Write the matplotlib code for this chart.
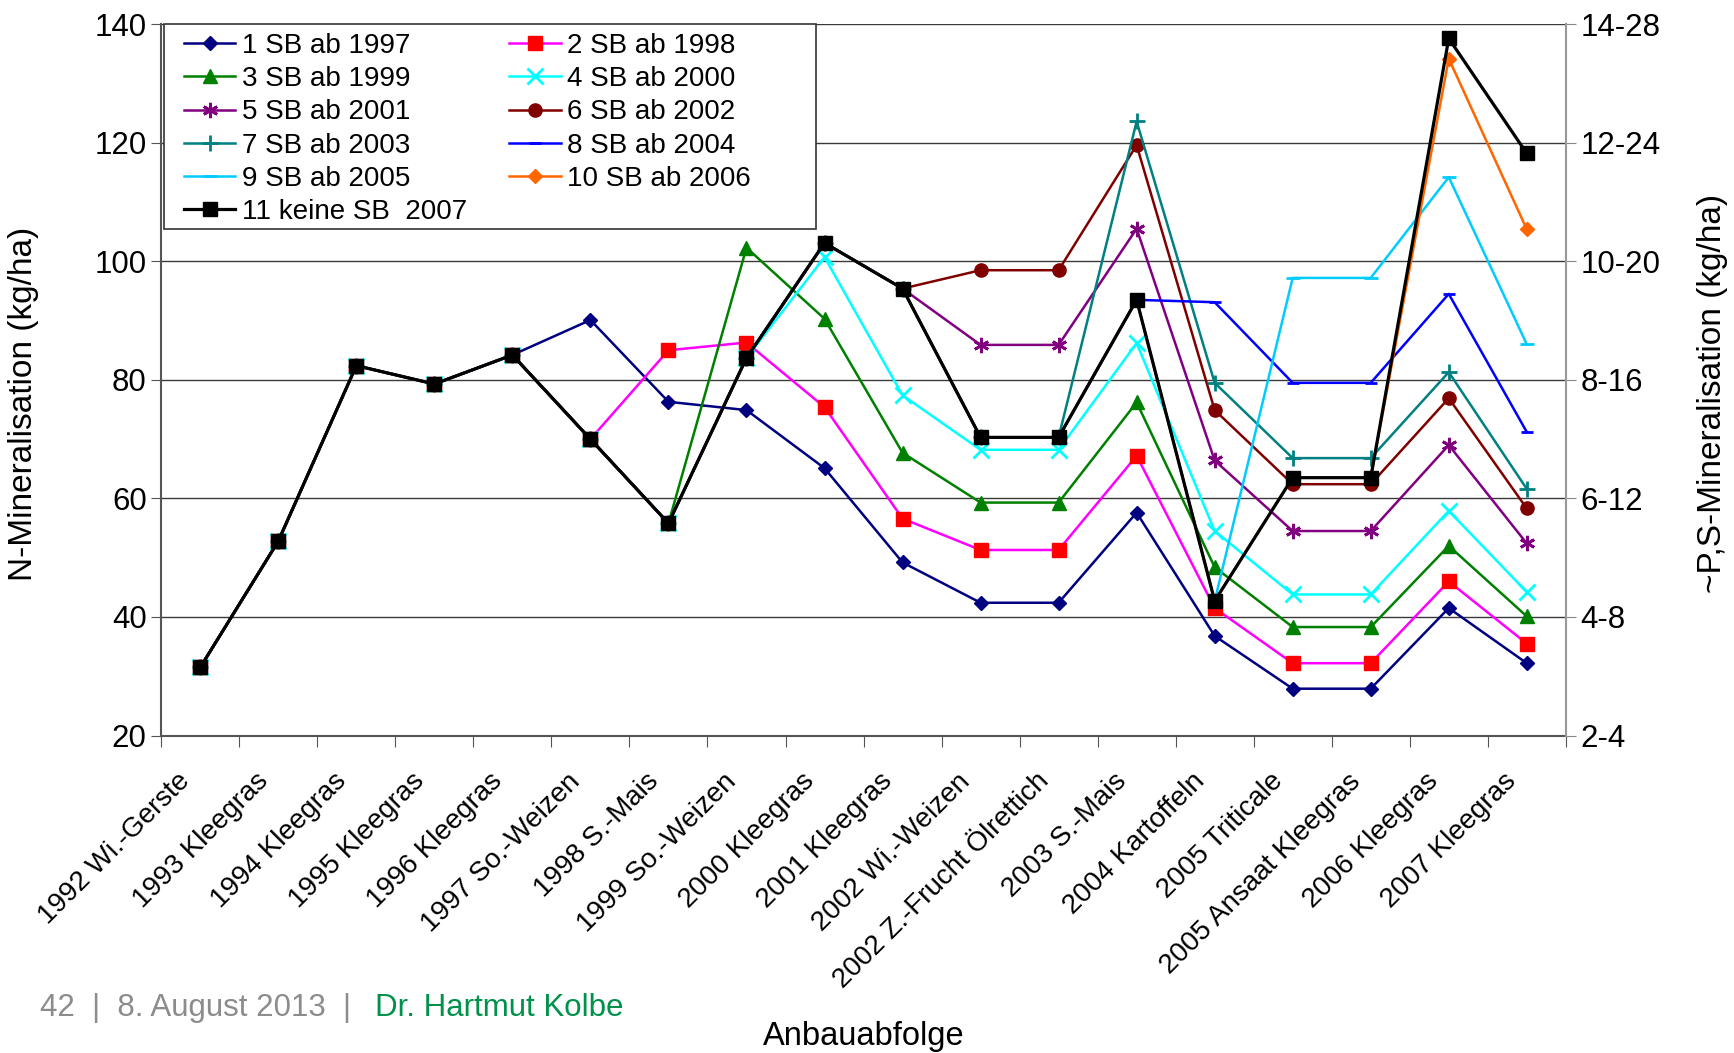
import numpy as np
import matplotlib
matplotlib.use('Agg')
import matplotlib.pyplot as plt
import matplotlib.transforms as mtransforms
from matplotlib.patches import Rectangle

plt.rcParams['font.family'] = ['Liberation Sans', 'DejaVu Sans']

kulturen = ["1992 Wi.-Gerste", "1993 Kleegras", "1994 Kleegras", "1995 Kleegras",
            "1996 Kleegras", "1997 So.-Weizen", "1998 S.-Mais", "1999 So.-Weizen",
            "2000 Kleegras", "2001 Kleegras", "2002 Wi.-Weizen",
            "2002 Z.-Frucht Ölrettich", "2003 S.-Mais", "2004 Kartoffeln",
            "2005 Triticale", "2005 Ansaat Kleegras", "2006 Kleegras", "2007 Kleegras"]

# N-Mineralisation (kg/ha) je Variante
sb_1997 = [31.5, 52.8, 82.4, 79.3, 84.2, 90.1, 76.3, 74.9, 65.1, 49.2, 42.4, 42.4, 57.6, 36.8, 27.9, 27.9, 41.5, 32.2]
sb_1998 = [31.5, 52.8, 82.4, 79.3, 84.2, 70.0, 85.0, 86.3, 75.4, 56.6, 51.3, 51.3, 67.2, 41.5, 32.2, 32.2, 46.0, 35.5]
sb_1999 = [31.5, 52.8, 82.4, 79.3, 84.2, 70.0, 55.8, 102.3, 90.3, 67.7, 59.3, 59.3, 76.2, 48.4, 38.3, 38.3, 52.0, 40.1]
sb_2000 = [31.5, 52.8, 82.4, 79.3, 84.2, 70.0, 55.8, 83.7, 100.7, 77.4, 68.2, 68.2, 86.2, 54.5, 43.8, 43.8, 57.9, 44.2]
sb_2001 = [31.5, 52.8, 82.4, 79.3, 84.2, 70.0, 55.8, 83.7, 103.1, 95.4, 85.9, 85.9, 105.5, 66.4, 54.5, 54.5, 69.0, 52.4]
sb_2002 = [31.5, 52.8, 82.4, 79.3, 84.2, 70.0, 55.8, 83.7, 103.1, 95.4, 98.5, 98.5, 119.6, 74.9, 62.4, 62.4, 76.9, 58.3]
sb_2003 = [31.5, 52.8, 82.4, 79.3, 84.2, 70.0, 55.8, 83.7, 103.1, 95.4, 70.3, 70.3, 123.6, 79.5, 66.8, 66.8, 81.3, 61.6]
sb_2004 = [31.5, 52.8, 82.4, 79.3, 84.2, 70.0, 55.8, 83.7, 103.1, 95.4, 70.3, 70.3, 93.5, 93.1, 79.5, 79.5, 94.5, 71.2]
sb_2005 = [31.5, 52.8, 82.4, 79.3, 84.2, 70.0, 55.8, 83.7, 103.1, 95.4, 70.3, 70.3, 93.5, 42.7, 97.2, 97.2, 114.2, 86.0]
sb_2006 = [31.5, 52.8, 82.4, 79.3, 84.2, 70.0, 55.8, 83.7, 103.1, 95.4, 70.3, 70.3, 93.5, 42.7, 63.5, 63.5, 134.2, 105.4]
keine_sb = [31.5, 52.8, 82.4, 79.3, 84.2, 70.0, 55.8, 83.7, 103.1, 95.4, 70.3, 70.3, 93.5, 42.7, 63.5, 63.5, 137.6, 118.2]

ps_labels = ["2-4", "4-8", "6-12", "8-16", "10-20", "12-24", "14-28"]

# (daten, label, linienfarbe, marker, markerfarbe, markergroesse)
varianten = [
    (sb_1997, "1 SB ab 1997", '#000080', 'D', '#000080', 7.5),
    (sb_1998, "2 SB ab 1998", '#FF00FF', 's', '#FF0000', 9.5),
    (sb_1999, "3 SB ab 1999", '#008000', '^', '#008000', 10.5),
    (sb_2000, "4 SB ab 2000", '#00FFFF', 'x', '#00FFFF', 12),
    (sb_2001, "5 SB ab 2001", '#800080', (6, 2, 0), '#800080', 11),
    (sb_2002, "6 SB ab 2002", '#800000', 'o', '#800000', 9.5),
    (sb_2003, "7 SB ab 2003", '#008080', '+', '#008080', 11),
    (sb_2004, "8 SB ab 2004", '#0000FF', '_', '#0000FF', 8),
    (sb_2005, "9 SB ab 2005", '#00CCFF', '_', '#00CCFF', 10),
    (sb_2006, "10 SB ab 2006", '#FF6600', 'D', '#FF6600', 7.5),
    (keine_sb, "11 keine SB  2007", '#000000', 's', '#000000', 9.5),
]

W, H = 1734, 1053
fig = plt.figure(figsize=(W / 100, H / 100), dpi=100)
ax = fig.add_axes([0.093, 0.3015, 0.810, 0.6755])

x = np.arange(len(kulturen))
linien = []
for werte, name, lc, mk, mc, ms in varianten:
    lw = 2.3 if lc == '#000000' else 1.8
    mew = 2 if mk in ('x', '+', '_') or isinstance(mk, tuple) else 1
    l, = ax.plot(x, werte, color=lc, lw=lw, marker=mk, markersize=ms,
                 markerfacecolor=mc, markeredgecolor=mc, markeredgewidth=mew,
                 label=name)
    linien.append(l)

ax.set_xlim(-0.5, len(kulturen) - 0.5)
ax.set_ylim(20, 140)
ax.set_yticks(range(20, 141, 20))
ax.yaxis.grid(True, color='#3a3a3a', lw=1)
ax.set_axisbelow(True)

# Teilstriche zwischen den Kulturen, Beschriftung schräg darunter
ax.set_xticks(np.arange(-0.5, len(kulturen), 1))
ax.set_xticklabels([])
ax.tick_params(axis='x', which='major', length=8, color='#555555')
versatz = mtransforms.ScaledTranslation(-14 / 100, -42 / 100, fig.dpi_scale_trans)
for xi, name in zip(x, kulturen):
    ax.text(xi, 0, name, transform=ax.get_xaxis_transform() + versatz,
            rotation=45, rotation_mode='anchor', ha='right', va='center',
            fontsize=20, clip_on=False)

ax.tick_params(axis='y', length=7, labelsize=22.5, color='#555555')
for s in ['left', 'bottom']:
    ax.spines[s].set_color('#555555')
    ax.spines[s].set_linewidth(1.5)
ax.spines['top'].set_visible(False)
ax.spines['right'].set_visible(False)

ax2 = ax.twinx()
ax2.set_ylim(20, 140)
ax2.set_yticks(range(20, 141, 20))
ax2.set_yticklabels(ps_labels)
ax2.tick_params(axis='y', length=7, labelsize=22.5, color='#888888')
ax2.spines['right'].set_color('#999999')
ax2.spines['right'].set_linewidth(1.5)
for s in ['left', 'bottom', 'top']:
    ax2.spines[s].set_visible(False)

# Legendenrahmen
rahmen = Rectangle((164 / W, 1 - 229 / H), (816 - 164) / W, (229 - 24) / H,
                   transform=fig.transFigure, facecolor='white',
                   edgecolor='#333333', lw=1.2, zorder=5)
ax2.add_patch(rahmen)
rahmen.set_clip_on(False)

# Legende zeilenweise: 1 2 / 3 4 / ...
reihenfolge = [0, 2, 4, 6, 8, 10, 1, 3, 5, 7, 9]
leg = ax2.legend([linien[i] for i in reihenfolge],
                 [linien[i].get_label() for i in reihenfolge],
                 ncol=2, loc='upper left', bbox_to_anchor=(184 / W, 1 - 33 / H),
                 bbox_transform=fig.transFigure, borderaxespad=0, borderpad=0,
                 fontsize=20, handlelength=1.85, handletextpad=0.25,
                 columnspacing=1.5, labelspacing=0.26, frameon=False)
leg.set_zorder(6)

fig.text(24 / W, 1 - 404 / H, "N-Mineralisation (kg/ha)", rotation=90,
         ha='center', va='center', fontsize=24)
fig.text(1712 / W, 1 - 393 / H, "~P,S-Mineralisation (kg/ha)", rotation=90,
         ha='center', va='center', fontsize=24)
fig.text(864 / W, 1 - 1036 / H, "Anbauabfolge", ha='center', va='center',
         fontsize=23.5)

fig.text(40 / W, 1 - 1008 / H, "42  |  8. August 2013  |", ha='left',
         va='center', fontsize=22.5, color='#8c8c8c')
fig.text(375 / W, 1 - 1008 / H, "Dr. Hartmut Kolbe", ha='left',
         va='center', fontsize=22.5, color='#00914a')

fig.savefig('out.png', dpi=100)
